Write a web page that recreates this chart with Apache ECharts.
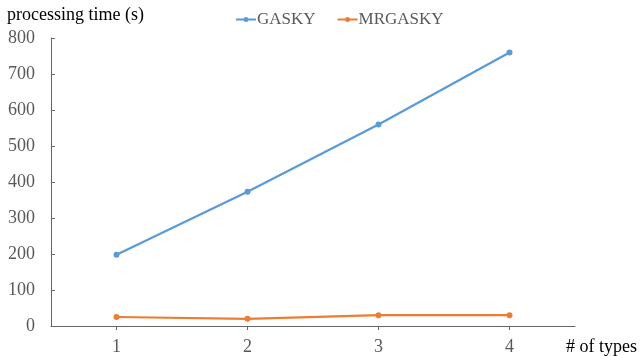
<!DOCTYPE html>
<html>
<head>
<meta charset="utf-8">
<script src="https://cdn.jsdelivr.net/npm/echarts@6/dist/echarts.min.js"></script>
<style>html,body{margin:0;padding:0;background:#fff}#c{width:640px;height:356px}</style>
</head>
<body>
<div id="c"></div>
<script>
var categories = ['1', '2', '3', '4'];
var gasky = [198, 373, 560, 760];
var mrgasky = [25, 20, 30, 30];
var yTicks = [0, 100, 200, 300, 400, 500, 600, 700, 800];

var FONT = '"Liberation Serif", "Times New Roman", serif';
var ICON = 'path://M0,2 L20,2 L20,4 L0,4 Z M10,0.5 A2.5,2.5 0 1,1 10,5.5 A2.5,2.5 0 1,1 10,0.5 Z';
var chart = echarts.init(document.getElementById('c'), null, {renderer: 'canvas'});
chart.setOption({
  animation: false,
  backgroundColor: '#fff',
  grid: {left: 51, right: 65, top: 38, bottom: 29, containLabel: false},
  legend: {
    top: 6, left: 231,
    itemWidth: 20, itemHeight: 6, itemGap: 22,
    textStyle: {fontFamily: FONT, fontSize: 17, color: '#595959', padding: [0, 0, 0, -4]},
    data: [
      {name: 'GASKY', icon: ICON},
      {name: 'MRGASKY', icon: ICON}
    ]
  },
  xAxis: {
    type: 'category',
    data: categories,
    boundaryGap: true,
    axisLine: {lineStyle: {color: '#666', width: 1}},
    axisTick: {show: true, alignWithLabel: true, length: 4, lineStyle: {color: '#666'}},
    axisLabel: {fontFamily: FONT, fontSize: 18, color: '#595959', margin: 12}
  },
  yAxis: {
    type: 'value',
    min: yTicks[0], max: yTicks[yTicks.length - 1], interval: 100,
    axisLine: {show: true, lineStyle: {color: '#666', width: 1}},
    axisTick: {show: true, inside: true, length: 4, lineStyle: {color: '#666'}},
    splitLine: {show: false},
    axisLabel: {fontFamily: FONT, fontSize: 18, color: '#595959', margin: 16}
  },
  graphic: [
    {type: 'text', left: 7, top: 6, style: {text: 'processing time (s)', font: '18px ' + FONT, fill: '#000'}},
    {type: 'text', left: 566, top: 338, style: {text: '# of types', font: '18px ' + FONT, fill: '#000'}}
  ],
  series: [
    {
      name: 'GASKY', type: 'line', data: gasky,
      color: '#5B9BD5',
      symbol: 'circle', symbolSize: 6,
      lineStyle: {width: 2.25, color: '#5B9BD5'},
      itemStyle: {color: '#5B9BD5'}
    },
    {
      name: 'MRGASKY', type: 'line', data: mrgasky,
      color: '#ED7D31',
      symbol: 'circle', symbolSize: 6,
      lineStyle: {width: 2.25, color: '#ED7D31'},
      itemStyle: {color: '#ED7D31'}
    }
  ]
});
</script>
</body>
</html>
